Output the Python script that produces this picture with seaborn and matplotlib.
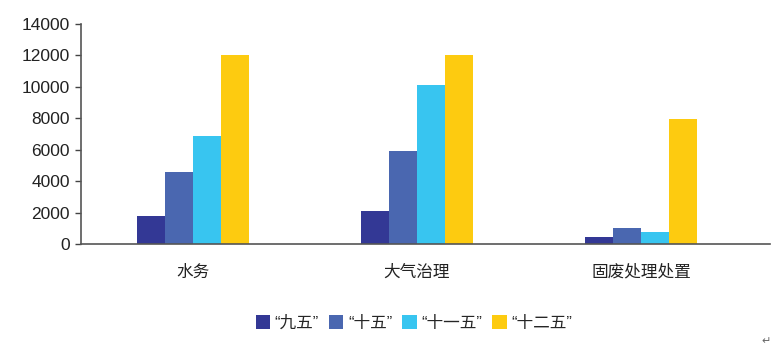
import matplotlib
matplotlib.use("Agg")
import matplotlib.pyplot as plt
import seaborn as sns
import pandas as pd

categories = ["水务", "大气治理", "固废处理处置"]
series = ["“九五”", "“十五”", "“十一五”", "“十二五”"]
v_95 = [1800, 2100, 450]
v_105 = [4600, 5900, 1050]
v_115 = [6900, 10150, 760]
v_125 = [12000, 12000, 7950]
colors = ["#333895", "#4A67B0", "#38C5F0", "#FDCB10"]

rows = []
for s, vals in zip(series, [v_95, v_105, v_115, v_125]):
    for c, v in zip(categories, vals):
        rows.append({"cat": c, "series": s, "value": v})
df = pd.DataFrame(rows)

sns.set_style("white")
plt.rcParams['font.family'] = ['Liberation Sans', 'Noto Sans CJK SC', 'DejaVu Sans']

fig = plt.figure(figsize=(7.74, 3.53), dpi=100)
ax = fig.add_axes([81/774, 1-244/353, (770-81)/774, 220/353])
sns.barplot(data=df, x="cat", y="value", hue="series", palette=colors,
            width=0.5, ax=ax, edgecolor="none", saturation=1, legend=True)

ax.set_ylim(0, 14000)
ax.set_xlim(-0.5, 2.5 + 17/224)
ax.set_yticks(range(0, 14001, 2000))
ax.set_yticklabels([str(t) for t in range(0, 14001, 2000)], fontsize=12.5, color="#222222",
                   family=['Liberation Sans'])
ax.set_xticks([0, 1, 2])
ax.set_xticklabels(categories, fontsize=12, color="#222222", family=['Noto Sans CJK SC'])
ax.set_xticks([0.5, 1.5], minor=True)
ax.tick_params(axis='x', which='major', length=0, pad=14)
ax.tick_params(axis='x', which='minor', length=3, direction='in', color="#444444", width=1)
ax.tick_params(axis='y', length=4, direction='out', color="#444444", width=1, left=True, pad=4)
ax.set_xlabel("")
ax.set_ylabel("")
for sp in ["top", "right"]:
    ax.spines[sp].set_visible(False)
for sp in ["left", "bottom"]:
    ax.spines[sp].set_color("#555555")
    ax.spines[sp].set_linewidth(1.2)

h, l = ax.get_legend_handles_labels()
ax.legend(h, l, loc="center", bbox_to_anchor=(414/774, 1-323/353), bbox_transform=fig.transFigure,
          ncol=4, frameon=False, handlelength=0.85, handleheight=0.85,
          handletextpad=0.3, columnspacing=0.6, borderpad=0,
          prop={'family': ['Liberation Sans', 'Noto Sans CJK SC'], 'size': 12})

fig.text(766/774, 1-341/353, "↵", fontsize=8, color="#666666", ha="center", va="center",
         family=['DejaVu Sans'])

fig.savefig("out.png", dpi=100)
